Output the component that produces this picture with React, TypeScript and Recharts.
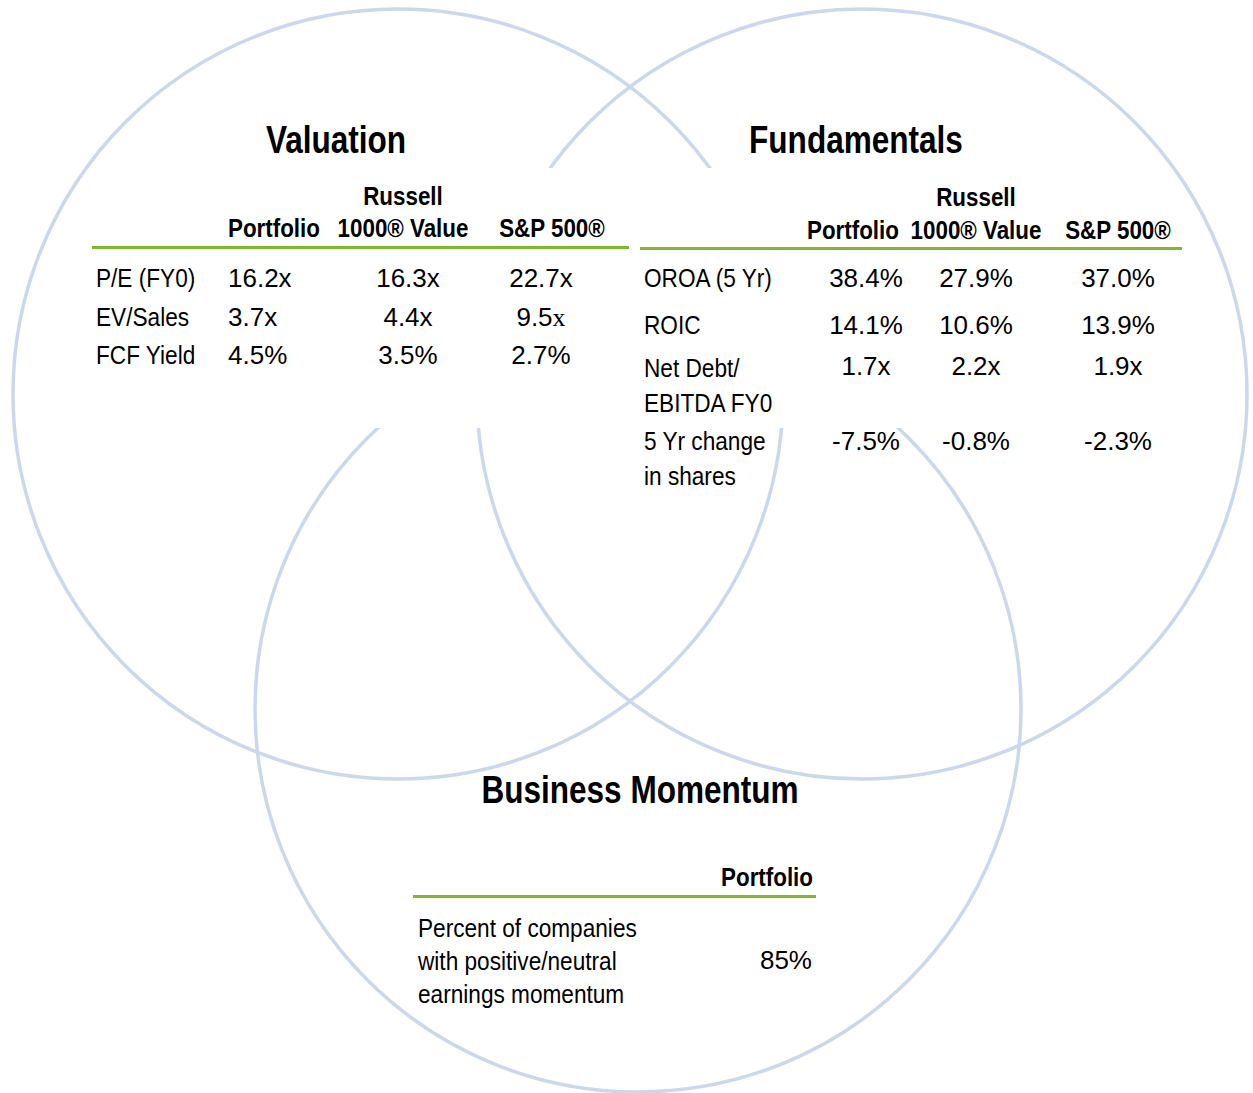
import { ScatterChart, Scatter, XAxis, YAxis } from "recharts";
import type { CSSProperties, ReactNode } from "react";

const W = 1253;
const H = 1093;

// venn circles (center + radius in page units)
const circleNames = ["Valuation", "Fundamentals", "Business Momentum"];
const circleX = [398, 862, 638];
const circleY = [394, 394, 709];
const circleR = [385, 385, 383];

// valuation table
const valuationMetrics = ["P/E (FY0)", "EV/Sales", "FCF Yield"];
const valuationPortfolio = ["16.2x", "3.7x", "4.5%"];
const valuationRussell = ["16.3x", "4.4x", "3.5%"];
const valuationSP500 = ["22.7x", "9.5x", "2.7%"];

// fundamentals table
const fundamentalsMetrics = [
  ["OROA (5 Yr)"],
  ["ROIC"],
  ["Net Debt/", "EBITDA FY0"],
  ["5 Yr change", "in shares"],
];
const fundamentalsPortfolio = ["38.4%", "14.1%", "1.7x", "-7.5%"];
const fundamentalsRussell = ["27.9%", "10.6%", "2.2x", "-0.8%"];
const fundamentalsSP500 = ["37.0%", "13.9%", "1.9x", "-2.3%"];

// business momentum
const momentumMetric = ["Percent of companies", "with positive/neutral", "earnings momentum"];
const momentumPortfolio = ["85%"];

const circleData = circleNames.map((name, i) => ({
  name,
  x: circleX[i],
  y: circleY[i],
  r: circleR[i],
}));

const CIRCLE = "#CAD8EE";
const GREEN = "#7DB92A";
const SANS = '"Liberation Sans", Arial, sans-serif';

// condensed look = Liberation Sans squeezed horizontally
const titleStyle: CSSProperties = { fontFamily: SANS, fontWeight: 700, fontSize: 38 };
const headStyle: CSSProperties = { fontFamily: SANS, fontWeight: 700, fontSize: 26 };
const labelStyle: CSSProperties = { fontFamily: SANS, fontSize: 26 };
const numStyle: CSSProperties = { fontFamily: SANS, fontSize: 26 };

// plot area is 1:1 with the domain, so radius maps straight through
const CircleShape = (props: any) => {
  const { cx, cy, payload } = props;
  return (
    <circle
      cx={cx}
      cy={cy}
      r={payload.r * (W / W)}
      fill="none"
      stroke={CIRCLE}
      strokeWidth={3.5}
    />
  );
};

const Txt = ({
  x,
  y,
  align = "left",
  squeeze = 1,
  style,
  children,
}: {
  x: number;
  y: number;
  align?: "left" | "center" | "right";
  squeeze?: number;
  style: CSSProperties;
  children: ReactNode;
}) => {
  const lh = Math.round(((style.fontSize as number) || 26) * 1.2);
  const tx = align === "left" ? "0" : align === "center" ? "-50%" : "-100%";
  const ox = align === "left" ? "0" : align === "center" ? "50%" : "100%";
  return (
    <div
      style={{
        position: "absolute",
        left: x,
        top: y - lh / 2,
        lineHeight: `${lh}px`,
        whiteSpace: "nowrap",
        color: "#000",
        transformOrigin: `${ox} 50%`,
        transform: `translateX(${tx}) scaleX(${squeeze})`,
        ...style,
      }}
    >
      {children}
    </div>
  );
};

const Rule = ({ x1, x2, y }: { x1: number; x2: number; y: number }) => (
  <div
    style={{
      position: "absolute",
      left: x1,
      top: y - 1.5,
      width: x2 - x1,
      height: 3,
      background: GREEN,
    }}
  />
);

// the S&P 9.5x cell uses a serif "x" in the source
const withSerifX = (v: string) =>
  v === "9.5x" ? (
    <>
      9.5<span style={{ fontFamily: '"Liberation Serif", serif' }}>x</span>
    </>
  ) : (
    v
  );

const App = () => {
  const valRows = [278, 317, 355];
  const fundRows = [278, 325, 368, 441];
  const fundLine2 = 35;
  const T = 0.83; // title squeeze
  const HS = 0.86; // header squeeze
  const LS = 0.87; // label squeeze

  return (
    <div
      style={{
        position: "absolute",
        left: 0,
        top: 0,
        width: W,
        height: H,
        background: "#fff",
        overflow: "hidden",
      }}
    >
      <ScatterChart width={W} height={H} margin={{ top: 0, right: 0, bottom: 0, left: 0 }}>
        <XAxis type="number" dataKey="x" domain={[0, W]} hide />
        <YAxis type="number" dataKey="y" domain={[0, H]} reversed hide />
        <Scatter data={circleData} shape={CircleShape} isAnimationActive={false} />
      </ScatterChart>

      {/* white panel behind the two top tables */}
      <div
        style={{
          position: "absolute",
          left: 360,
          top: 168,
          width: 570,
          height: 260,
          background: "#fff",
        }}
      />

      {/* Valuation */}
      <Txt x={336} y={140} align="center" squeeze={T} style={titleStyle}>
        {circleNames[0]}
      </Txt>
      <Txt x={403} y={196} align="center" squeeze={HS} style={headStyle}>
        Russell
      </Txt>
      <Txt x={274} y={228} align="center" squeeze={HS} style={headStyle}>
        Portfolio
      </Txt>
      <Txt x={403} y={228} align="center" squeeze={HS} style={headStyle}>
        1000® Value
      </Txt>
      <Txt x={552} y={228} align="center" squeeze={HS} style={headStyle}>
        S&amp;P 500®
      </Txt>
      <Rule x1={92} x2={629} y={247} />
      {valuationMetrics.map((m, i) => (
        <Txt key={m} x={96} y={valRows[i]} squeeze={LS} style={labelStyle}>
          {m}
        </Txt>
      ))}
      {valuationPortfolio.map((v, i) => (
        <Txt key={"vp" + i} x={228} y={valRows[i]} style={numStyle}>
          {v}
        </Txt>
      ))}
      {valuationRussell.map((v, i) => (
        <Txt key={"vr" + i} x={408} y={valRows[i]} align="center" style={numStyle}>
          {v}
        </Txt>
      ))}
      {valuationSP500.map((v, i) => (
        <Txt key={"vs" + i} x={541} y={valRows[i]} align="center" style={numStyle}>
          {withSerifX(v)}
        </Txt>
      ))}

      {/* Fundamentals */}
      <Txt x={856} y={140} align="center" squeeze={T} style={titleStyle}>
        {circleNames[1]}
      </Txt>
      <Txt x={976} y={197} align="center" squeeze={HS} style={headStyle}>
        Russell
      </Txt>
      <Txt x={853} y={230} align="center" squeeze={HS} style={headStyle}>
        Portfolio
      </Txt>
      <Txt x={976} y={230} align="center" squeeze={HS} style={headStyle}>
        1000® Value
      </Txt>
      <Txt x={1118} y={230} align="center" squeeze={HS} style={headStyle}>
        S&amp;P 500®
      </Txt>
      <Rule x1={640} x2={1182} y={248} />
      {fundamentalsMetrics.map((lines, i) =>
        lines.map((l, j) => (
          <Txt key={l} x={644} y={fundRows[i] + j * fundLine2} squeeze={LS} style={labelStyle}>
            {l}
          </Txt>
        ))
      )}
      {fundamentalsPortfolio.map((v, i) => (
        <Txt key={"fp" + i} x={866} y={fundRows[i] - (i === 2 ? 2 : 0)} align="center" style={numStyle}>
          {v}
        </Txt>
      ))}
      {fundamentalsRussell.map((v, i) => (
        <Txt key={"fr" + i} x={976} y={fundRows[i] - (i === 2 ? 2 : 0)} align="center" style={numStyle}>
          {v}
        </Txt>
      ))}
      {fundamentalsSP500.map((v, i) => (
        <Txt key={"fs" + i} x={1118} y={fundRows[i] - (i === 2 ? 2 : 0)} align="center" style={numStyle}>
          {v}
        </Txt>
      ))}

      {/* Business Momentum */}
      <Txt x={640} y={790} align="center" squeeze={T} style={titleStyle}>
        {circleNames[2]}
      </Txt>
      <Txt x={813} y={877} align="right" squeeze={HS} style={headStyle}>
        Portfolio
      </Txt>
      <Rule x1={413} x2={816} y={896} />
      {momentumMetric.map((l, i) => (
        <Txt key={l} x={418} y={928 + i * 33} squeeze={LS} style={labelStyle}>
          {l}
        </Txt>
      ))}
      {momentumPortfolio.map((v) => (
        <Txt key={v} x={812} y={960} align="right" style={numStyle}>
          {v}
        </Txt>
      ))}
    </div>
  );
};

export default App;
